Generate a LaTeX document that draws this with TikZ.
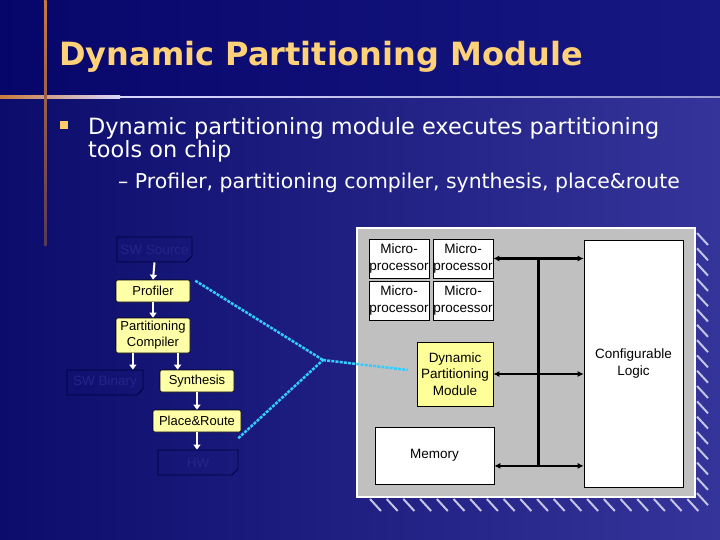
\documentclass[tikz,border=0pt]{standalone}
\usepackage{fontspec}
\setmainfont{DejaVu Sans}
\newfontfamily\titlef{DejaVu Sans Bold}
\newfontfamily\bodyf{DejaVu Sans}
\newfontfamily\boxf{Liberation Sans}
\usetikzlibrary{arrows.meta,calc,shapes.misc}
\definecolor{bgL}{HTML}{0C0C6C}
\definecolor{bgR}{HTML}{34349A}
\definecolor{titleL}{HTML}{06066A}
\definecolor{titleR}{HTML}{181884}
\definecolor{titleY}{HTML}{FFD27A}
\definecolor{bulletC}{HTML}{FFCC66}
\definecolor{boxY}{HTML}{FFFFA8}
\definecolor{dpmY}{HTML}{FFFF99}
\definecolor{cyanL}{HTML}{33CCFF}
\definecolor{panelG}{HTML}{C0C0C0}
\definecolor{darkT}{HTML}{24248A}
\definecolor{darkB}{HTML}{00003A}
\definecolor{lineO}{HTML}{C87A3C}
\definecolor{hatchC}{HTML}{C4C4E4}
\tikzset{
  ybox/.style={draw=black, fill=boxY, rounded corners=2pt, inner sep=0pt, align=center,
    font=\boxf\fontsize{13}{16}\selectfont, line width=0.6pt},
  dbox/.style={chamfered rectangle, chamfered rectangle corners=south east,
    chamfered rectangle sep=3pt, draw=darkB, inner sep=0pt, align=center, text=darkT,
    font=\boxf\fontsize{13.5}{16}\selectfont, line width=0.8pt},
  wbox/.style={draw=black, fill=white, inner sep=0pt, align=center,
    font=\boxf\fontsize{13.5}{16.5}\selectfont, line width=0.6pt},
  warr/.style={draw=white, line width=2pt, -{Triangle[length=5pt,width=7pt]}},
  barr/.style={draw=black, line width=2.5pt, {Latex[length=6pt,width=6pt]}-{Latex[length=6pt,width=6pt]}},
  cyl/.style={draw=cyanL, line width=2.5pt, dash pattern=on 3pt off 1.2pt},
  hatch/.style={draw=hatchC, line width=2pt},
}
\begin{document}
\begin{tikzpicture}[x=1pt,y=-1pt]
\useasboundingbox (0,0) rectangle (720,540);
% background
\fill[left color=bgL, right color=bgR] (0,96) rectangle (720,540);
\fill[left color=titleL, right color=titleR] (0,0) rectangle (720,96);
\fill[left color=lineO, right color=white!85!blue] (0,96) rectangle (120,98.5);
\fill[left color=white!85!blue, right color=bgR!50!white] (120,96.5) rectangle (720,98);
\fill[top color=lineO, bottom color=lineO!40!bgL] (44,0) rectangle (46.5,245);
% title
\node[anchor=base west, text=titleY, font=\titlef\fontsize{32}{38}\selectfont, inner sep=0pt] (title) at (59,66) {Dynamic Partitioning Module};
% bullets
\node[fill=bulletC, minimum size=8pt, inner sep=0pt, anchor=north west] (bul) at (60,121) {};
\node[anchor=base west, text=white, font=\bodyf\fontsize{22.4}{26}\selectfont, inner sep=0pt] (l1) at (88,135) {Dynamic partitioning module executes partitioning};
\node[anchor=base west, text=white, font=\bodyf\fontsize{22.4}{26}\selectfont, inner sep=0pt] (l2) at (88,158) {tools on chip};
\node[anchor=base west, text=white, font=\bodyf\fontsize{20.4}{24}\selectfont, inner sep=0pt] (l3) at (118,189) {\textendash\ Profiler, partitioning compiler, synthesis, place\&route};
% left flow
\node[dbox, minimum width=75pt, minimum height=25pt] (swsrc) at (154.5,249.5) {SW Source};
\node[ybox, minimum width=74pt, minimum height=22pt] (prof) at (153,291) {Profiler};
\node[ybox, minimum width=74pt, minimum height=35pt] (pc) at (153,335.5) {Partitioning\\Compiler};
\node[dbox, minimum width=76pt, minimum height=25pt] (swbin) at (105,382.5) {SW Binary};
\node[ybox, minimum width=74pt, minimum height=22pt] (syn) at (197,381) {Synthesis};
\node[ybox, minimum width=88pt, minimum height=22pt] (pr) at (197,421) {Place\&Route};
\node[dbox, minimum width=80pt, minimum height=25pt] (hw) at (198,462.5) {HW};
\draw[warr] (swsrc.south) -- (prof.north);
\draw[warr] (prof.south) -- (pc.north);
\coordinate (pcA) at ($(pc.south west)!0.23!(pc.south east)$);
\coordinate (pcB) at ($(pc.south west)!0.83!(pc.south east)$);
\draw[warr] (pcA) -- (pcA |- swbin.north);
\draw[warr] (pcB) -- (pcB |- syn.north);
\draw[warr] (syn.south) -- (syn.south |- pr.north);
\draw[warr] (pr.south) -- (pr.south |- hw.north);
% right panel
\foreach \y in {233,248.3,...,500} \draw[hatch] (697,\y) -- (708,\y+12);
\foreach \x in {370,386.7,...,695} \draw[hatch] (\x,499) -- (\x+11,511);
\node[draw=white, line width=2.2pt, fill=panelG, minimum width=338pt, minimum height=269pt, inner sep=0pt] (panel) at (526,362.5) {};
\node[wbox, minimum width=60pt, minimum height=39pt] (mp1) at (399,258.5) {Micro-\\processor};
\node[wbox, minimum width=60pt, minimum height=39pt] (mp2) at (463,258.5) {Micro-\\processor};
\node[wbox, minimum width=60pt, minimum height=39pt] (mp3) at (399,300.5) {Micro-\\processor};
\node[wbox, minimum width=60pt, minimum height=39pt] (mp4) at (463,300.5) {Micro-\\processor};
\node[wbox, fill=dpmY, minimum width=76pt, minimum height=64pt] (dpm) at (455,374) {Dynamic\\Partitioning\\Module};
\node[wbox, minimum width=119pt, minimum height=57pt] (mem) at (434.5,455.5) {Memory};
\node[wbox, minimum width=99pt, minimum height=247pt] (cl) at (633.5,363.5) {Configurable\\Logic};
\coordinate (mA) at ($(mem.south east)!0.32!(mem.north east)$);
\coordinate (bt) at ($(mp2.east)!0.5!(cl.west |- mp2.east)$);
\draw[line width=3pt] (bt) -- (bt |- mA);
\draw[barr] (mp2.east) -- (cl.west |- mp2.east);
\draw[barr] (dpm.east) -- (cl.west |- dpm.east);
\draw[barr] (mA) -- (cl.west |- mA);
% cyan links
\coordinate (J) at (323,360);
\draw[cyl] ($(prof.north east)+(5,1)$) -- (J);
\draw[cyl] ($(pr.south east)+(-3,6)$) -- (J);
\draw[cyl] (J) -- ($(dpm.west)+(-9,-4)$);
\end{tikzpicture}
\end{document}
